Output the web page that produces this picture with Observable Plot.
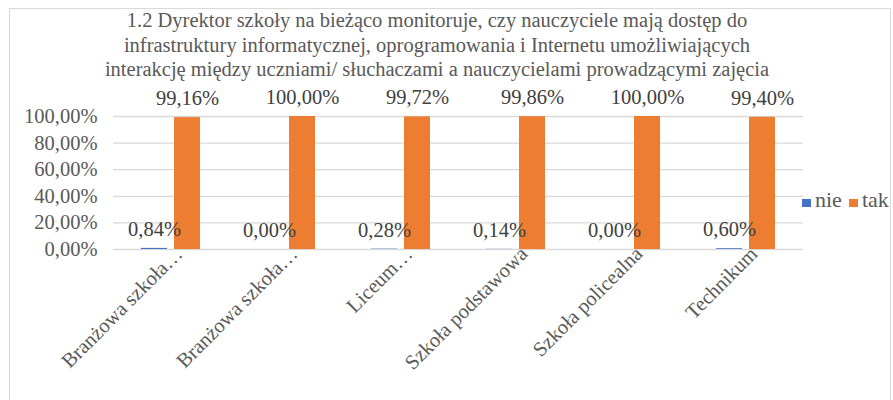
<!DOCTYPE html>
<html>
<head>
<meta charset="utf-8">
<script src="https://cdn.jsdelivr.net/npm/d3@7"></script>
<script src="https://cdn.jsdelivr.net/npm/@observablehq/plot@0.6"></script>
<style>
  html, body { margin: 0; padding: 0; background: #fff; }
  #wrap { position: relative; width: 893px; height: 400px; overflow: hidden; font-family: "Liberation Serif", Tinos, "DejaVu Serif", serif; }
  #frame { position: absolute; left: 9px; top: 8px; width: 882px; height: 420px; border: 1px solid #d9d9d9; box-sizing: border-box; }
  #title { position: absolute; left: 0; width: 874px; top: 8px; text-align: center; font-size: 20.5px; line-height: 24.5px; color: #595959; font-family: "Liberation Serif", Tinos, "DejaVu Serif", serif; }
  #legend { position: absolute; left: 802px; top: 188.6px; font-size: 22px; line-height: 22px; color: #595959; white-space: nowrap; font-family: "Liberation Serif", Tinos, "DejaVu Serif", serif; }
  #legend span.sw { display: inline-block; width: 9px; height: 8px; margin-right: 4px; vertical-align: baseline; }
  #legend span.it { margin-right: 7px; }
  #chart { position: absolute; left: 0; top: 0; }
</style>
</head>
<body>
<div id="wrap">
  <div id="frame"></div>
  <div id="chart"></div>
  <div id="title"></div>
  <div id="legend"></div>
</div>
<script>
const titleLines = [
  "1.2  Dyrektor szkoły na bieżąco monitoruje, czy nauczyciele mają dostęp do",
  "infrastruktury informatycznej, oprogramowania i Internetu umożliwiających",
  "interakcję między uczniami/ słuchaczami a nauczycielami prowadzącymi zajęcia"
];
const categoryKeys = ["c1", "c2", "c3", "c4", "c5", "c6"];
const categoryLabels = ["Branżowa szkoła…", "Branżowa szkoła…", "Liceum…", "Szkoła podstawowa", "Szkoła policealna", "Technikum"];
const seriesNames = ["nie", "tak"];
const seriesColors = ["#4472C4", "#ED7D31"];
const nieValues = [0.84, 0.00, 0.28, 0.14, 0.00, 0.60];
const takValues = [99.16, 100.00, 99.72, 99.86, 100.00, 99.40];
const yTicks = [0, 20, 40, 60, 80, 100];

const fmt = v => v.toFixed(2).replace(".", ",") + "%";

const data = [];
categoryKeys.forEach((c, i) => {
  data.push({cat: c, series: seriesNames[0], value: nieValues[i]});
  data.push({cat: c, series: seriesNames[1], value: takValues[i]});
});
const labelOf = Object.fromEntries(categoryKeys.map((k, i) => [k, categoryLabels[i]]));

document.getElementById("title").innerHTML = titleLines.join("<br>");
document.getElementById("legend").innerHTML = seriesNames.map((s, i) =>
  `<span class="sw" style="background:${seriesColors[i]}"></span><span class="it">${s}</span>`).join("");

const FONT = "'Liberation Serif', Tinos, 'DejaVu Serif', serif";
const FS = 20.5;
const chart = Plot.plot({
  width: 893,
  height: 400,
  marginLeft: 113,
  marginRight: 90,
  marginTop: 116,
  marginBottom: 151,
  style: {fontFamily: FONT, fontSize: FS + "px", color: "#595959", background: "transparent"},
  fx: {domain: categoryKeys, paddingInner: 0, paddingOuter: 0, label: null},
  x: {domain: seriesNames, paddingInner: 0.2, paddingOuter: 0.825, axis: null},
  y: {domain: [0, 100], label: null},
  color: {domain: seriesNames, range: seriesColors},
  marks: [
    Plot.gridY(yTicks, {stroke: "#d9d9d9", strokeOpacity: 1, strokeWidth: 1.3}),
    Plot.axisY(yTicks, {tickSize: 0, tickPadding: 16, tickFormat: fmt, fontSize: FS, fill: "#595959", fontFamily: FONT, label: null}),
    Plot.barY(data, {fx: "cat", x: "series", y: "value", fill: "series"}),
    Plot.text(data, {fx: "cat", x: "series", y: "value", text: d => fmt(d.value), dy: -19, fontSize: FS, fill: "#404040", fontFamily: FONT}),
    Plot.axisFx({anchor: "bottom", tickSize: 0, tickRotate: -45, tickFormat: k => labelOf[k], fontSize: FS, fill: "#595959", fontFamily: FONT, label: null, tickPadding: 4, dx: 8, dy: -3})
  ]
});
document.getElementById("chart").appendChild(chart);
</script>
</body>
</html>
